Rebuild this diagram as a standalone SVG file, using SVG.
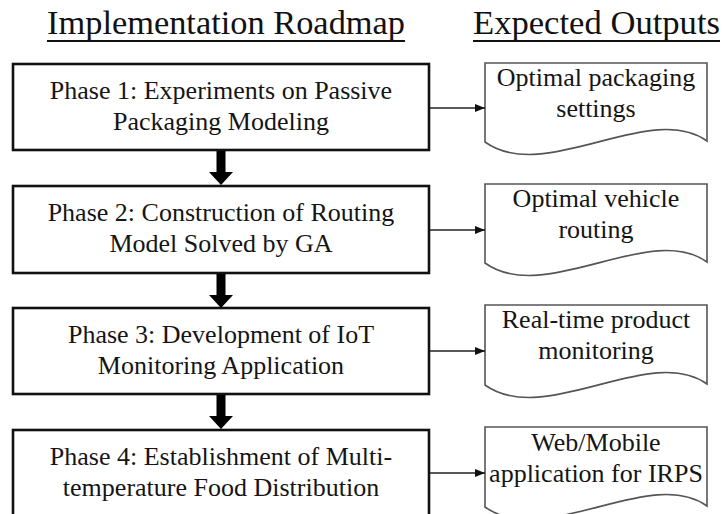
<svg xmlns="http://www.w3.org/2000/svg" width="723" height="514" viewBox="0 0 723 514">
  <defs>
    <style>
      text { font-family: 'Liberation Serif', 'DejaVu Serif', serif; }
      .title { font-size: 34px; fill: #111; }
      .uline { stroke: #111; stroke-width: 1.8; }
      .phase rect { fill: #fff; stroke: #111; stroke-width: 2.6; }
      .phase text, .output text { font-size: 26px; fill: #151515; text-anchor: middle; }
      .output path { fill: #fff; stroke: #555; stroke-width: 1.6; }
      .link { stroke: #222; stroke-width: 1.4; fill: none; marker-end: url(#tip); }
      .down { fill: #000; }
    </style>
    <marker id="tip" viewBox="0 0 10 8" refX="10" refY="4" markerWidth="10" markerHeight="8" markerUnits="userSpaceOnUse" orient="auto">
      <path d="M0,0 L10,4 L0,8 Z" fill="#111"/>
    </marker>
    <!-- block arrow between phases, origin at top centre -->
    <path id="blockArrow" d="M-4.5,0 L4.5,0 L4.5,21 L12,21 L0,34 L-12,21 L-4.5,21 Z"/>
  </defs>
  <rect width="723" height="514" fill="#fff"/>

  <!-- column headings -->
  <g id="headings" font-family="Liberation Serif, serif">
    <text class="title" x="47" y="34" textLength="358" lengthAdjust="spacingAndGlyphs">Implementation Roadmap</text>
    <line class="uline" x1="47" y1="41" x2="405" y2="41"/>
    <text class="title" x="473" y="34" textLength="247" lengthAdjust="spacingAndGlyphs">Expected Outputs</text>
    <line class="uline" x1="473" y1="41" x2="720" y2="41"/>
  </g>

  <!-- roadmap phases -->
  <g id="phase1" class="phase">
    <rect x="13" y="64" width="416" height="86"/>
    <text x="221" y="99">Phase 1: Experiments on Passive</text>
    <text x="221" y="130">Packaging Modeling</text>
  </g>
  <g id="phase2" class="phase">
    <rect x="13" y="186" width="416" height="87"/>
    <text x="221" y="221">Phase 2: Construction of Routing</text>
    <text x="221" y="252">Model Solved by GA</text>
  </g>
  <g id="phase3" class="phase">
    <rect x="13" y="308" width="416" height="86"/>
    <text x="221" y="343">Phase 3: Development of IoT</text>
    <text x="221" y="374">Monitoring Application</text>
  </g>
  <g id="phase4" class="phase">
    <rect x="13" y="430" width="416" height="90"/>
    <text x="221" y="465">Phase 4: Establishment of Multi-</text>
    <text x="221" y="496">temperature Food Distribution</text>
  </g>

  <!-- expected outputs (document shapes) -->
  <g id="output1" class="output">
    <path d="M485,63 L707,63 L707,141 C650,100 545,185 485,142 Z"/>
    <text x="596" y="86">Optimal packaging</text>
    <text x="596" y="117">settings</text>
  </g>
  <g id="output2" class="output">
    <path d="M485,184 L707,184 L707,262 C650,221 545,306 485,263 Z"/>
    <text x="596" y="207">Optimal vehicle</text>
    <text x="596" y="238">routing</text>
  </g>
  <g id="output3" class="output">
    <path d="M485,305 L707,305 L707,384 C650,343 545,428 485,385 Z"/>
    <text x="596" y="328">Real-time product</text>
    <text x="596" y="359">monitoring</text>
  </g>
  <g id="output4" class="output">
    <path d="M485,427 L707,427 L707,506 C650,465 545,550 485,507 Z"/>
    <text x="596" y="451">Web/Mobile</text>
    <text x="596" y="482">application for IRPS</text>
  </g>

  <!-- connectors -->
  <g id="connectors">
    <line class="link" x1="430" y1="108" x2="485" y2="108"/>
    <line class="link" x1="430" y1="230" x2="485" y2="230"/>
    <line class="link" x1="430" y1="351" x2="485" y2="351"/>
    <line class="link" x1="430" y1="473" x2="485" y2="473"/>
    <use href="#blockArrow" class="down" x="221" y="151"/>
    <use href="#blockArrow" class="down" x="221" y="274"/>
    <use href="#blockArrow" class="down" x="221" y="395"/>
  </g>
</svg>
